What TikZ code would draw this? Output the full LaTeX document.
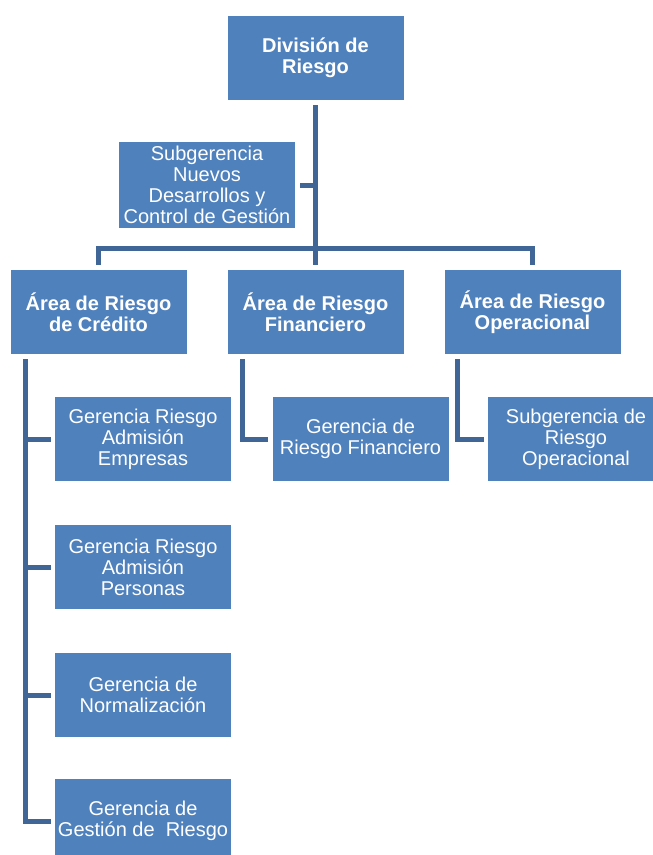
\documentclass[tikz,border=0pt]{standalone}
\usepackage{fontspec}
\setmainfont{Liberation Sans}
\definecolor{boxblue}{RGB}{79,129,189}
\definecolor{linkblue}{RGB}{64,102,152}
\begin{document}
\begin{tikzpicture}[x=1pt,y=-1pt,
			unit/.style={rectangle,fill=boxblue,text=white,minimum width=176pt,minimum height=84pt,
				inner sep=0pt,align=center,font=\fontsize{20}{21}\selectfont},
			head/.style={unit,font=\fontsize{20}{21}\selectfont\bfseries},
			link/.style={draw=linkblue,line width=5pt},]
\useasboundingbox (0,0) rectangle (653,855);
% top
\node[head] (div) at (315.5,58) {División de\\Riesgo};
\node[unit,minimum height=86pt] (sub) at (207,185) {Subgerencia\\Nuevos\\Desarrollos y\\Control de Gestión};
% areas
\node[head] (cred) at (98.5,312) {Área de Riesgo\\de Crédito};
\node[head] (fin) at (315.5,312) {Área de Riesgo\\Financiero};
\node[head] (ope) at (532.5,312) {Área de Riesgo\\Operacional};
% gerencias
\node[unit] (emp) at (143,439) {Gerencia Riesgo\\Admisión\\Empresas};
\node[unit] (per) at (143,567) {Gerencia Riesgo\\Admisión\\Personas};
\node[unit] (nor) at (143,695) {Gerencia de\\Normalización};
\node[unit] (ges) at (143,821) {Gerencia de\\Gestión de~~Riesgo};
\node[unit] (fin3) at (360.5,439) {Gerencia de\\Riesgo Financiero};
\node[unit] (ope3) at (576,439) {Subgerencia de\\Riesgo\\Operacional};
% connectors
\coordinate (junc) at (315.5,248);
\draw[link,shorten <=5pt,shorten >=5pt] (div.south) -- (fin.north);
\draw[link,shorten <=5pt] (sub.east) -- (sub.east -| div.south);
\draw[link,shorten <=5pt,shorten >=5pt] (cred.north) |- (junc) -| (ope.north);
\coordinate (credl) at ([xshift=15pt]cred.south west);
\draw[link,shorten <=5pt,shorten >=4pt] (credl) |- (ges.west);
\foreach \n in {emp,per,nor}
	\draw[link,shorten >=4pt] (credl |- \n.west) -- (\n.west);
\draw[link,shorten <=5pt,shorten >=4pt] ([xshift=15pt]fin.south west) |- (fin3.west);
\draw[link,shorten <=5pt,shorten >=4pt] ([xshift=13pt]ope.south west) |- (ope3.west);
\end{tikzpicture}
\end{document}
